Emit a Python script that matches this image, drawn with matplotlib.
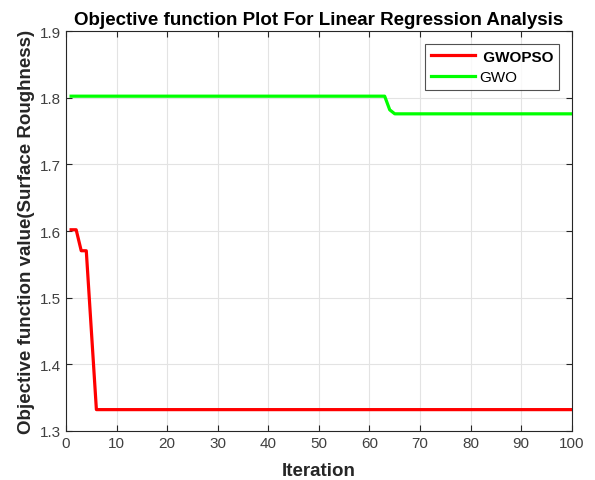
import numpy as np
from matplotlib import pyplot as plt

plt.rcParams['font.family'] = ['Liberation Sans', 'DejaVu Sans']

# GWOPSO curve
gwopso_x = [1, 2, 3, 4, 6, 100]
gwopso_y = [1.602, 1.602, 1.5705, 1.5705, 1.332, 1.332]
# GWO curve
gwo_x = [1, 63, 64, 65, 100]
gwo_y = [1.8025, 1.8025, 1.782, 1.776, 1.776]

fig = plt.figure(figsize=(5.95, 4.81), dpi=100)
ax = fig.add_axes([0.111, 0.102, 0.85, 0.831])
ax.plot(gwopso_x, gwopso_y, color='#ff0000', lw=2.3, label=' GWOPSO')
ax.plot(gwo_x, gwo_y, color='#00ff00', lw=2.3, label='GWO')

ax.set_xlim(0, 100)
ax.set_ylim(1.3, 1.9)
ax.set_xticks(np.arange(0, 101, 10))
ax.set_yticks(np.arange(1.3, 1.91, 0.1))
ax.grid(True, color='#e3e3e3', lw=0.8)
ax.tick_params(direction='in', top=True, right=True, labelsize=11, colors='#262626',
               labelcolor='#404040', length=4)
for s in ax.spines.values():
    s.set_color('#262626')

ax.set_title('Objective function Plot For Linear Regression Analysis', fontsize=13.5,
             fontweight='bold', pad=5)
ax.set_xlabel('Iteration', fontsize=13.5, fontweight='bold', labelpad=9, color='#262626')
ax.set_ylabel('Objective function value(Surface Roughness)', fontsize=13.5, fontweight='bold',
              labelpad=4, color='#262626')

leg = ax.legend(loc='upper right', bbox_to_anchor=(0.974, 0.967), fontsize=11, fancybox=False,
                edgecolor='#262626', handlelength=2.9, handletextpad=0.25, borderpad=0.35,
                borderaxespad=0, labelspacing=0.42)
leg.get_frame().set_linewidth(0.8)
leg.get_texts()[0].set_fontweight('bold')

fig.savefig('out.png')
